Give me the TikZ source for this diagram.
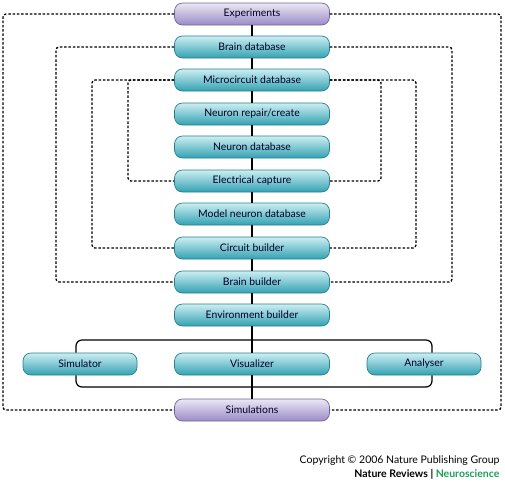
\documentclass[tikz,border=0pt]{standalone}
\usepackage{fontspec}
\setmainfont{Lato}
\definecolor{tealtop}{HTML}{CDEEF2}
\definecolor{tealbot}{HTML}{33A1B2}
\definecolor{tealline}{HTML}{25808F}
\definecolor{lilactop}{HTML}{ECE8F5}
\definecolor{lilacbot}{HTML}{9A8BC5}
\definecolor{lilacline}{HTML}{72639C}
\definecolor{nrgreen}{HTML}{1E9C5A}
\begin{document}
\begin{tikzpicture}[x=1pt, y=-1pt,
    stage/.style={rounded corners=8pt, minimum width=155pt, minimum height=22pt,
        top color=tealtop, bottom color=tealbot, draw=tealline, line width=0.7pt,
        font=\fontsize{10.4}{12}\selectfont, text=black!85!blue},
    endstage/.style={stage, top color=lilactop, bottom color=lilacbot, draw=lilacline},
    toolbox/.style={stage, minimum width=114pt},
    feedback/.style={line width=1.3pt, dash pattern=on 2.5pt off 1.8pt, rounded corners=3pt},
    flow/.style={line width=1.2pt}]
\useasboundingbox (0,0) rectangle (505,483);

\node[endstage] (exp)   at (252,14)  {Experiments};
\node[stage]    (bdb)   at (252,47)  {Brain database};
\node[stage]    (mcdb)  at (252,80)  {Microcircuit database};
\node[stage]    (nrep)  at (252,114) {Neuron repair/create};
\node[stage]    (ndb)   at (252,147) {Neuron database};
\node[stage]    (ecap)  at (252,181) {Electrical capture};
\node[stage]    (mndb)  at (252,214) {Model neuron database};
\node[stage]    (cbld)  at (252,248) {Circuit builder};
\node[stage]    (bbld)  at (252,282) {Brain builder};
\node[stage]    (ebld)  at (252,315) {Environment builder};
\node[toolbox]  (simr)  at (80,364)  {Simulator};
\node[stage]    (vis)   at (252,364) {Visualizer};
\node[toolbox]  (ana)   at (424,364) {Analyser};
\node[endstage] (sims)  at (252,410) {Simulations};

% main pipeline
\draw[flow] (exp) -- (bdb);
\draw[flow] (bdb) -- (mcdb);
\draw[flow] (mcdb) -- (nrep);
\draw[flow] (nrep) -- (ndb);
\draw[flow] (ndb) -- (ecap);
\draw[flow] (ecap) -- (mndb);
\draw[flow] (mndb) -- (cbld);
\draw[flow] (cbld) -- (bbld);
\draw[flow] (bbld) -- (ebld);
\draw[flow] (ebld) -- (vis);
\draw[flow] (vis) -- (sims);

% bracket round the tools
\coordinate (brtop) at (252,340);
\coordinate (brbot) at (252,387);
\draw[flow, rounded corners=6pt] (simr.north -| 76,0) |- (brtop) -| (ana.north -| 432,0);
\draw[flow, rounded corners=6pt] (simr.south -| 76,0) |- (brbot) -| (ana.south -| 432,0);

% feedback loops
\draw[feedback] (exp.west) -| (3,200) |- (sims.west);
\draw[feedback] (exp.east) -| (501,200) |- (sims.east);
\draw[feedback] (bdb.west) -| (56,160) |- (bbld.west);
\draw[feedback] (bdb.east) -| (452,160) |- (bbld.east);
\draw[feedback] (mcdb.west) -| (92,160) |- (cbld.west);
\draw[feedback] (mcdb.east) -| (416,160) |- (cbld.east);
\draw[feedback] (mcdb.west) -| (128,130) |- (ecap.west);
\draw[feedback] (mcdb.east) -| (381,130) |- (ecap.east);

\node[anchor=east, font=\fontsize{10.5}{12}\selectfont] (copy) at (503,461) {Copyright © 2006 Nature Publishing Group};
\node[anchor=east, font=\fontsize{10.5}{12}\selectfont\bfseries] (nrn) at (503,474) {Nature Reviews | \textcolor{nrgreen}{Neuroscience}};
\end{tikzpicture}
\end{document}
